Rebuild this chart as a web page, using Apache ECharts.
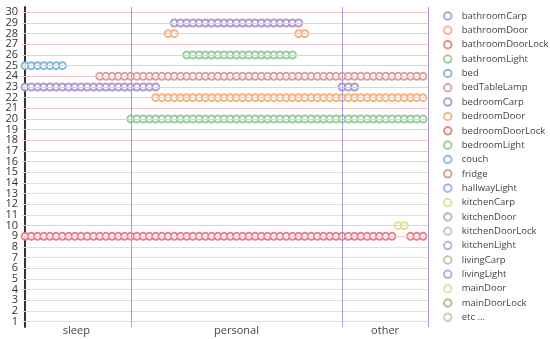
<!DOCTYPE html>
<html><head><meta charset="utf-8">
<script src="https://cdn.jsdelivr.net/npm/echarts@6/dist/echarts.min.js"></script>
<style>html,body{margin:0;padding:0;background:#fff}#c{width:550px;height:339px}</style>
</head><body><div id="c"></div>
<script>
// ---- data ----
const yCategories = ['1','2','3','4','5','6','7','8','9','10','11','12','13','14','15','16','17','18','19','20','21','22','23','24','25','26','27','28','29','30'];
const sectionNames = ['sleep','personal','other'];
const sectionBounds = [17, 51];          // time-slot boundaries between sections
const timeMin = -0.5, timeMax = 64.8;

const sensorNames = ['bathroomCarp','bathroomDoor','bathroomDoorLock','bathroomLight','bed','bedTableLamp','bedroomCarp','bedroomDoor','bedroomDoorLock','bedroomLight','couch','fridge','hallwayLight','kitchenCarp','kitchenDoor','kitchenDoorLock','kitchenLight','livingCarp','livingLight','mainDoor','mainDoorLock','etc ...'];
const sensorRows = ['29','28','9','26','25','24','23','22','21','20','19','18','17','16','15','14','13','12','11','10','8','7'];

const bathroomCarpT = [24,25,26,27,28,29,30,31,32,33,34,35,36,37,38,39,40,41,42,43,44];
const bathroomDoorT = [23,24,44,45];
const bathroomDoorLockT = [0,1,2,3,4,5,6,7,8,9,10,11,12,13,14,15,16,17,18,19,20,21,22,23,24,25,26,27,28,29,30,31,32,33,34,35,36,37,38,39,40,41,42,43,44,45,46,47,48,49,50,51,52,53,54,55,56,57,58,59,62,63,64];
const bathroomLightT = [26,27,28,29,30,31,32,33,34,35,36,37,38,39,40,41,42,43];
const bedT = [0,1,2,3,4,5,6];
const bedTableLampT = [12,13,14,15,16,17,18,19,20,21,22,23,24,25,26,27,28,29,30,31,32,33,34,35,36,37,38,39,40,41,42,43,44,45,46,47,48,49,50,51,52,53,54,55,56,57,58,59,60,61,62,63,64];
const bedroomCarpT = [0,1,2,3,4,5,6,7,8,9,10,11,12,13,14,15,16,17,18,19,20,21,51,52,53];
const bedroomDoorT = [21,22,23,24,25,26,27,28,29,30,31,32,33,34,35,36,37,38,39,40,41,42,43,44,45,46,47,48,49,50,51,52,53,54,55,56,57,58,59,60,61,62,63,64];
const bedroomDoorLockT = [];
const bedroomLightT = [17,18,19,20,21,22,23,24,25,26,27,28,29,30,31,32,33,34,35,36,37,38,39,40,41,42,43,44,45,46,47,48,49,50,51,52,53,54,55,56,57,58,59,60,61,62,63,64];
const couchT = [], fridgeT = [], hallwayLightT = [], kitchenCarpT = [], kitchenDoorT = [], kitchenDoorLockT = [], kitchenLightT = [], livingCarpT = [], livingLightT = [];
const mainDoorT = [60,61];
const mainDoorLockT = [], etcT = [];

const sensorTimes = [bathroomCarpT,bathroomDoorT,bathroomDoorLockT,bathroomLightT,bedT,bedTableLampT,bedroomCarpT,bedroomDoorT,bedroomDoorLockT,bedroomLightT,couchT,fridgeT,hallwayLightT,kitchenCarpT,kitchenDoorT,kitchenDoorLockT,kitchenLightT,livingCarpT,livingLightT,mainDoorT,mainDoorLockT,etcT];

// ---- styles ----
const colors = ['#a58fcf','#f5ab74','#e5727f','#8ec98e','#7cb0d6','#cc9c90','#a58fcf','#f5ab74','#e5727f','#8ec98e','#7cb0d6','#cf9282','#a6a2de','#e2d88c','#b6aca2','#bcc4b2','#a8a8e2','#c4bca4','#a6a2de','#e2de8c','#b6a892','#bccaa8'];
const gridPink = '#f8c6cf', gridBeige = '#eadcd1', sectionLine = '#a69ddc';

const sectionMids = [(timeMin+sectionBounds[0])/2, (sectionBounds[0]+sectionBounds[1])/2, (sectionBounds[1]+timeMax)/2];

const series = sensorNames.map((n,k)=>({
  name:n, type:'scatter', symbol:'emptyCircle', symbolSize:7,
  itemStyle:{color:colors[k], borderWidth:1.2, opacity:0.9},
  data: sensorTimes[k].map(t=>[t, sensorRows[k]]), z:3
}));
series.push({
  name:'_grid', type:'scatter', data:[], z:1, silent:true,
  markLine:{silent:true, symbol:'none', label:{show:false}, animation:false,
    data: yCategories.map(c=>{const v=+c; const col=(v>=16||v===9||v===10)?gridPink:gridBeige; return {yAxis:c, lineStyle:{color:col,width:1,type:'solid'}};})
      .concat([sectionBounds[0], sectionBounds[1], timeMax].map(x=>({xAxis:x, lineStyle:{color:sectionLine,width:1,type:'solid'}})))
  }
});

const chart = echarts.init(document.getElementById('c'), null, {renderer:'canvas'});
chart.setOption({
  animation:false,
  textStyle:{fontFamily:'Open Sans'},
  grid:{left:22, right:122, top:7, bottom:12, containLabel:false},
  legend:{orient:'vertical', left:438, top:6, itemWidth:18, itemHeight:7.5, itemGap:4.35,
    itemStyle:{borderWidth:1.1, opacity:0.85},
    data:sensorNames, textStyle:{fontFamily:'Open Sans', fontSize:9.5, color:'#444', lineHeight:10, padding:0}},
  xAxis:{type:'value', min:timeMin, max:timeMax,
    axisLine:{show:false}, axisTick:{show:false}, splitLine:{show:false},
    axisLabel:{customValues:sectionMids, margin:-2, fontSize:11, color:'#444',
      formatter:(v)=>{const i=sectionMids.findIndex(m=>Math.abs(m-v)<1e-6); return i>=0?sectionNames[i]:'';}}},
  yAxis:{type:'category', data:yCategories, boundaryGap:true,
    axisLine:{show:true, lineStyle:{color:'#333', width:2}}, axisTick:{show:false},
    splitLine:{show:false}, axisLabel:{fontSize:11, color:'#333', margin:4, interval:0}},
  series:series
});
</script></body></html>
